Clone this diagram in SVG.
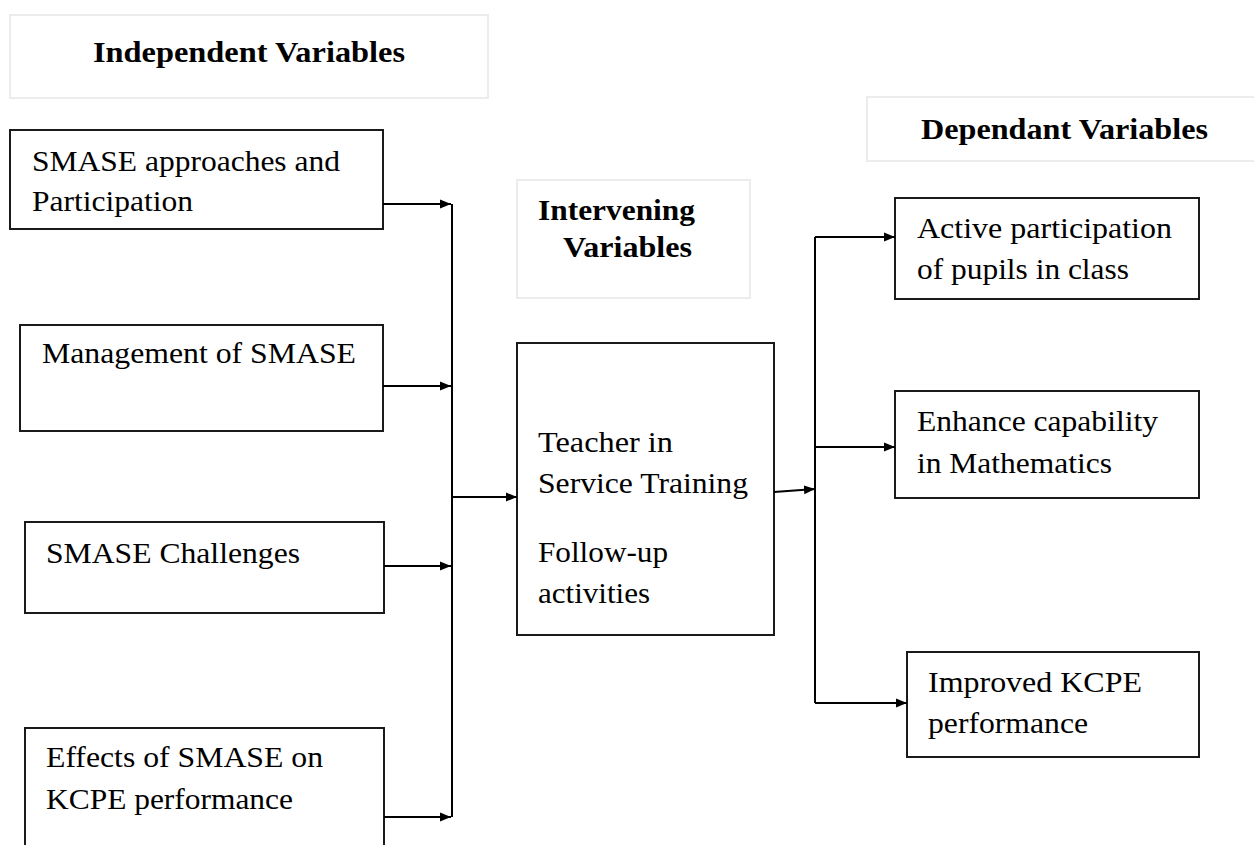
<svg xmlns="http://www.w3.org/2000/svg" width="1254" height="845" viewBox="0 0 1254 845">
<defs>
<marker id="ah" markerUnits="userSpaceOnUse" markerWidth="11" markerHeight="10" viewBox="0 0 11 10" refX="11" refY="5" orient="auto">
<path d="M0,0.5 L11,5 L0,9.5 Z" fill="#000"/>
</marker>
</defs>
<style>
.box{fill:#fff;stroke:#1a1a1a;stroke-width:2}
.hdr{fill:#fff;stroke:#ececec;stroke-width:2}
.t{font-family:"Liberation Serif","Times New Roman",serif;font-size:30px;fill:#000}
.b{font-family:"Liberation Serif","Times New Roman",serif;font-size:30px;font-weight:bold;fill:#000}
.c{fill:none;stroke:#000;stroke-width:2}
.a{fill:none;stroke:#000;stroke-width:2;marker-end:url(#ah)}
</style>
<rect width="1254" height="845" fill="#fff"/>
<g id="hdr-independent">
<rect class="hdr" x="10" y="15" width="478" height="83"/>
<text class="b" x="93" y="62" textLength="312" lengthAdjust="spacingAndGlyphs">Independent Variables</text>
</g>
<g id="hdr-intervening">
<rect class="hdr" x="517" y="180" width="233" height="118"/>
<text class="b" x="538" y="220" textLength="157" lengthAdjust="spacingAndGlyphs">Intervening</text>
<text class="b" x="563" y="257" textLength="129" lengthAdjust="spacingAndGlyphs">Variables</text>
</g>
<g id="hdr-dependant">
<rect class="hdr" x="867" y="97" width="395" height="64"/>
<text class="b" x="921" y="139" textLength="287" lengthAdjust="spacingAndGlyphs">Dependant Variables</text>
</g>
<g id="n-approaches">
<rect class="box" x="10" y="130" width="373" height="99"/>
<text class="t" x="32" y="171" textLength="308" lengthAdjust="spacingAndGlyphs">SMASE approaches and</text>
<text class="t" x="32" y="211" textLength="161" lengthAdjust="spacingAndGlyphs">Participation</text>
</g>
<g id="n-management">
<rect class="box" x="20" y="325" width="363" height="106"/>
<text class="t" x="42" y="363" textLength="314" lengthAdjust="spacingAndGlyphs">Management of SMASE</text>
</g>
<g id="n-challenges">
<rect class="box" x="25" y="522" width="359" height="91"/>
<text class="t" x="46" y="563" textLength="254" lengthAdjust="spacingAndGlyphs">SMASE Challenges</text>
</g>
<g id="n-effects">
<rect class="box" x="25" y="728" width="359" height="130"/>
<text class="t" x="46" y="767" textLength="277" lengthAdjust="spacingAndGlyphs">Effects of SMASE on</text>
<text class="t" x="46" y="809" textLength="247" lengthAdjust="spacingAndGlyphs">KCPE performance</text>
</g>
<g id="n-training">
<rect class="box" x="517" y="343" width="257" height="292"/>
<text class="t" x="538" y="452" textLength="135" lengthAdjust="spacingAndGlyphs">Teacher in</text>
<text class="t" x="538" y="493" textLength="210" lengthAdjust="spacingAndGlyphs">Service Training</text>
<text class="t" x="538" y="562" textLength="130" lengthAdjust="spacingAndGlyphs">Follow-up</text>
<text class="t" x="538" y="603" textLength="112" lengthAdjust="spacingAndGlyphs">activities</text>
</g>
<g id="n-active">
<rect class="box" x="895" y="198" width="304" height="101"/>
<text class="t" x="917" y="238" textLength="255" lengthAdjust="spacingAndGlyphs">Active participation</text>
<text class="t" x="917" y="279" textLength="212" lengthAdjust="spacingAndGlyphs">of pupils in class</text>
</g>
<g id="n-enhance">
<rect class="box" x="895" y="391" width="304" height="107"/>
<text class="t" x="917" y="431" textLength="241" lengthAdjust="spacingAndGlyphs">Enhance capability</text>
<text class="t" x="917" y="473" textLength="195" lengthAdjust="spacingAndGlyphs">in Mathematics</text>
</g>
<g id="n-improved">
<rect class="box" x="907" y="652" width="292" height="105"/>
<text class="t" x="928" y="692" textLength="214" lengthAdjust="spacingAndGlyphs">Improved KCPE</text>
<text class="t" x="928" y="733" textLength="160" lengthAdjust="spacingAndGlyphs">performance</text>
</g>
<g id="connectors">
<line class="c" x1="452" y1="204" x2="452" y2="817"/>
<line class="a" x1="383" y1="204" x2="451" y2="204"/>
<line class="a" x1="383" y1="386" x2="451" y2="386"/>
<line class="a" x1="384" y1="566" x2="451" y2="566"/>
<line class="a" x1="384" y1="817" x2="451" y2="817"/>
<line class="a" x1="452" y1="497" x2="517" y2="497"/>
<line class="a" x1="774" y1="492" x2="815" y2="489"/>
<line class="c" x1="815" y1="237" x2="815" y2="703"/>
<line class="a" x1="815" y1="237" x2="895" y2="237"/>
<line class="a" x1="815" y1="447" x2="895" y2="447"/>
<line class="a" x1="815" y1="703" x2="907" y2="703"/>
</g>
</svg>
